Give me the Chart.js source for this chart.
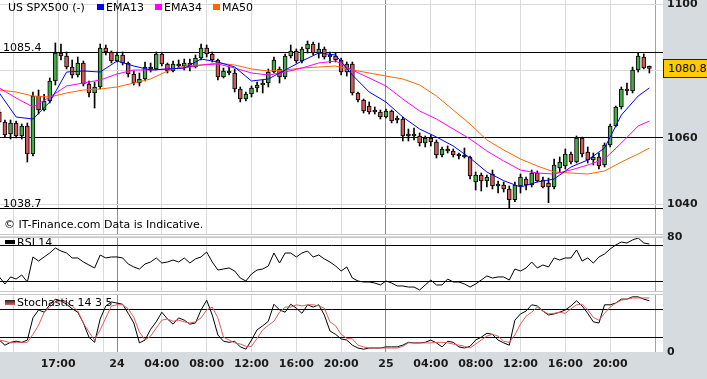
<!DOCTYPE html>
<html>
<head>
<meta charset="utf-8">
<title>US SPX500</title>
<script src="https://cdn.jsdelivr.net/npm/chart.js@4.4.0/dist/chart.umd.min.js"></script>
<style>
  body { margin: 0; background: #fff; }
  #wrap { position: relative; width: 707px; height: 379px; overflow: hidden; font-family: 'DejaVu Sans', sans-serif; font-size: 11px; color: #000; }
  #wrap canvas { position: absolute; left: 0; top: 0; }
  .side { position: absolute; background: #d6dbdf; }
  .sep { position: absolute; left: 0; width: 663px; height: 1px; background: #c6c6c6; }
  .txt { position: absolute; white-space: nowrap; line-height: 13px; }
  .swatch { position: absolute; width: 7px; height: 6px; }
  #lastPrice { position: absolute; left: 663px; top: 59px; width: 39px; height: 17px; padding-left: 4px; border: 1px solid #222; background: #ffcc00; line-height: 17px; }
</style>
</head>
<body>
<div id="wrap">
  <div class="side" style="left:663px;top:0;width:44px;height:379px"></div>
  <div class="side" style="left:0;top:352px;width:707px;height:27px"></div>
  <canvas id="priceChart" width="707" height="379"></canvas>
  <canvas id="rsiChart" width="707" height="379"></canvas>
  <canvas id="stochChart" width="707" height="379"></canvas>
  <div class="sep" style="top:234px"></div>
  <div class="sep" style="top:237px"></div>
  <div class="sep" style="top:291px"></div>
  <div class="sep" style="top:294px"></div>

  <div class="txt" style="left:8px;top:1px">US SPX500 (-)</div>
  <span class="swatch" style="left:97px;top:4px;background:#0000ff"></span>
  <div class="txt" style="left:106px;top:1px">EMA13</div>
  <span class="swatch" style="left:155px;top:4px;background:#ff00ff"></span>
  <div class="txt" style="left:164px;top:1px">EMA34</div>
  <span class="swatch" style="left:213px;top:4px;background:#ff6600"></span>
  <div class="txt" style="left:222px;top:1px">MA50</div>
  <div class="txt" id="highLabel" style="left:3px;top:41px"></div>
  <div class="txt" id="lowLabel" style="left:3px;top:197px"></div>
  <div class="txt" style="left:4px;top:218px">© IT-Finance.com Data is Indicative.</div>
  <span class="swatch" style="left:5px;top:240px;width:10px;height:4px;background:#000"></span>
  <div class="txt" style="left:17px;top:236px">RSI 14</div>
  <span class="swatch" style="left:5px;top:300px;width:10px;height:5px;background:linear-gradient(#222,#e06060)"></span>
  <div class="txt" style="left:17px;top:296px">Stochastic 14 3 5</div>
  <div id="lastPrice"></div>
</div>
<script>
// 30 minute bars, index 0 = first bar on the left
const opens = [1067.7,1064.7,1061.1,1064.4,1060.5,1063.5,1055.1,1072.5,1068.3,1071.0,
  1077.0,1085.4,1084.5,1081.2,1078.8,1082.4,1076.1,1073.4,1075.2,1086.9,
  1085.7,1083.0,1084.8,1082.4,1079.1,1076.4,1077.6,1081.2,1080.6,1085.1,
  1082.1,1080.0,1082.1,1081.5,1082.4,1081.2,1083.9,1086.9,1085.1,1083.3,
  1078.2,1080.0,1079.4,1074.6,1071.6,1073.1,1074.9,1075.8,1076.4,1079.7,
  1080.6,1078.2,1084.5,1086.0,1083.0,1086.6,1088.1,1085.4,1086.6,1084.2,
  1084.5,1083.3,1079.7,1082.1,1073.4,1071.3,1069.5,1068.3,1067.7,1066.2,
  1068.0,1065.3,1065.6,1060.5,1061.1,1060.5,1058.4,1059.9,1058.7,1054.8,
  1056.6,1056.0,1054.8,1054.5,1054.2,1046.7,1048.8,1047.0,1049.1,1045.5,
  1045.8,1044.6,1041.4,1045.5,1047.6,1045.8,1049.4,1047.3,1046.4,1045.2,
  1050.9,1051.5,1055.1,1052.7,1059.9,1055.7,1053.3,1054.2,1051.8,1057.8,
  1063.5,1069.2,1074.6,1074.0,1080.3,1084.2,1080.9];
const highs = [1068.6,1065.3,1065.3,1065.0,1064.1,1064.4,1073.7,1074.3,1073.0,1077.9,
  1088.4,1088.1,1085.7,1083.3,1084.2,1083.0,1077.0,1076.7,1088.1,1087.8,
  1086.0,1085.7,1085.7,1082.7,1080.0,1079.4,1082.7,1082.4,1085.7,1085.4,
  1082.4,1083.0,1083.3,1083.6,1083.6,1084.8,1088.1,1087.8,1085.7,1083.6,
  1080.9,1081.2,1080.6,1075.2,1073.7,1075.5,1076.7,1077.3,1080.6,1084.2,
  1081.2,1085.1,1087.8,1086.6,1087.2,1089.0,1088.7,1088.4,1087.2,1085.7,
  1085.4,1083.9,1082.7,1082.7,1073.7,1071.6,1070.7,1069.2,1068.3,1068.6,
  1068.3,1066.5,1066.2,1062.6,1062.9,1061.4,1060.5,1060.8,1059.3,1057.2,
  1057.5,1056.6,1055.4,1056.9,1054.5,1049.7,1049.4,1048.8,1050.3,1047.0,
  1046.7,1045.5,1046.7,1049.1,1048.2,1050.3,1050.0,1048.2,1047.9,1053.6,
  1054.2,1056.6,1055.7,1060.5,1060.2,1057.2,1055.4,1055.4,1058.4,1064.1,
  1069.5,1075.2,1076.4,1081.2,1085.4,1085.1,1081.5];
const lows = [1064.4,1060.2,1059.6,1059.9,1059.6,1052.7,1054.5,1067.1,1068.0,1070.4,
  1075.8,1083.3,1080.6,1077.9,1078.2,1075.5,1072.2,1068.9,1074.6,1084.8,
  1082.4,1082.7,1081.8,1078.2,1075.8,1075.5,1077.0,1079.7,1080.3,1081.5,
  1079.4,1079.7,1080.9,1080.3,1080.0,1080.9,1083.3,1084.2,1082.7,1077.3,
  1077.9,1078.8,1073.7,1070.7,1071.0,1072.2,1073.7,1073.4,1075.2,1079.4,
  1076.4,1077.6,1083.9,1082.4,1082.4,1085.4,1084.8,1083.9,1083.6,1082.4,
  1082.7,1078.8,1078.5,1072.8,1070.7,1067.4,1067.1,1067.1,1065.6,1065.9,
  1064.4,1064.4,1059.0,1059.0,1059.3,1057.5,1057.2,1057.5,1053.9,1054.2,
  1055.4,1054.2,1053.6,1053.9,1047.6,1044.3,1044.0,1045.2,1044.6,1043.4,
  1043.7,1039.0,1040.8,1043.4,1044.3,1045.2,1046.7,1044.9,1040.5,1044.6,
  1049.7,1050.6,1052.1,1052.4,1054.2,1052.4,1051.8,1050.6,1051.2,1057.2,
  1063.2,1068.6,1072.8,1073.4,1079.7,1080.6,1079.4];
const closes = [1064.7,1060.8,1064.4,1060.5,1063.5,1055.1,1072.5,1068.3,1071.0,1077.0,
  1085.4,1084.5,1081.2,1078.8,1082.4,1076.1,1073.4,1075.2,1086.9,1085.7,
  1083.0,1084.8,1082.4,1079.1,1076.4,1077.6,1081.2,1080.6,1085.1,1082.1,
  1080.0,1082.1,1081.5,1082.4,1081.2,1083.9,1086.9,1085.1,1083.3,1078.2,
  1080.0,1079.4,1074.6,1071.6,1073.1,1074.9,1075.8,1076.4,1079.7,1083.3,
  1078.2,1084.5,1086.0,1083.0,1086.6,1088.1,1085.4,1086.6,1084.2,1084.5,
  1083.3,1079.7,1082.1,1073.4,1071.3,1068.0,1067.7,1067.7,1066.2,1068.0,
  1065.0,1065.6,1060.5,1061.1,1060.5,1058.4,1059.9,1058.7,1054.8,1056.6,
  1056.0,1054.8,1054.5,1054.2,1048.5,1048.8,1047.0,1048.2,1045.5,1045.8,
  1044.6,1041.4,1045.8,1048.2,1045.8,1049.4,1047.0,1045.2,1045.2,1051.8,
  1052.7,1055.1,1052.7,1059.9,1055.1,1053.3,1054.2,1051.5,1057.8,1063.5,
  1069.2,1074.6,1074.0,1080.3,1084.5,1080.9,1080.8];

// moving averages read every third bar
const lineIdx = [0,3,6,9,12,15,18,21,24,27,30,33,36,39,42,45,48,51,54,57,
  60,63,66,69,72,75,78,81,84,87,90,93,96,99,102,105,108,111,114,116];
const ema13 = [1073.4,1066.2,1065.6,1070.7,1079.7,1080.0,1079.7,1083.0,1081.5,1080.3,
  1080.6,1080.9,1083.6,1082.7,1081.2,1077.0,1077.6,1080.3,1083.0,1085.4,
  1084.8,1078.8,1073.7,1070.7,1066.2,1062.6,1060.2,1057.5,1053.9,1049.7,
  1047.1,1045.2,1046.7,1047.6,1051.2,1053.3,1056.9,1066.8,1072.5,1074.9];
const ema34 = [1074.9,1071.9,1069.2,1072.2,1075.5,1076.4,1077.3,1079.1,1080.3,1080.3,
  1080.6,1080.9,1081.8,1082.1,1080.9,1079.4,1078.8,1079.7,1080.9,1082.4,
  1083.0,1080.3,1077.9,1075.5,1071.6,1068.0,1065.6,1062.6,1059.6,1056.0,
  1053.0,1050.3,1049.4,1049.1,1050.3,1051.8,1053.6,1058.4,1063.5,1065.0];
const ma50 = [1074.3,1073.7,1072.5,1072.2,1073.4,1074.3,1074.6,1075.2,1076.4,1077.6,
  1080.0,1081.5,1081.8,1082.4,1081.8,1080.6,1080.0,1080.3,1080.9,1081.2,
  1081.5,1080.3,1079.4,1078.5,1077.6,1075.8,1072.5,1068.3,1064.1,1059.3,
  1056.3,1053.6,1051.5,1049.7,1049.4,1049.1,1050.0,1052.7,1055.1,1056.9];

const rsi14 = [35.6,27.8,35.6,33.3,37.8,30.0,57.8,53.3,57.8,62.2,
  67.8,64.4,62.2,56.7,56.7,52.2,48.9,45.6,60.0,56.7,
  57.8,57.8,56.7,50.0,46.7,44.4,50.0,52.2,56.7,51.1,
  52.2,54.4,52.2,56.7,51.1,55.6,57.8,63.3,52.2,43.3,
  44.4,45.6,42.2,34.4,31.1,38.9,43.3,44.4,47.8,62.2,
  51.1,62.2,62.2,57.8,62.2,64.4,57.8,60.0,55.6,52.2,
  47.8,42.2,46.7,34.4,31.1,30.0,30.0,28.9,26.7,31.1,
  28.9,25.6,25.6,24.4,24.4,21.1,26.7,32.2,26.7,26.7,
  33.3,30.0,30.0,27.8,24.4,27.8,32.2,36.7,34.4,35.6,
  35.6,32.2,44.4,42.2,45.6,52.2,45.6,48.9,46.7,56.7,
  54.4,56.7,56.7,65.6,53.3,56.7,51.1,57.8,61.1,66.7,
  71.1,74.4,73.3,76.7,78.9,73.3,72.2];
const stochK = [21,12,17,19,17,21,60,74,70,83,
  93,90,84,76,70,51,26,17,58,81,
  88,86,84,68,51,16,21,40,53,70,
  58,49,60,56,49,51,74,91,65,30,
  19,17,19,9,5,21,39,46,54,84,
  74,70,84,77,68,83,79,83,65,37,
  31,23,21,12,7,5,7,7,7,9,
  9,9,12,17,16,16,17,21,16,9,
  19,17,9,7,10,21,26,33,31,21,
  16,12,56,67,72,83,81,72,65,67,
  70,74,81,90,81,68,53,51,83,83,
  86,93,93,97,97,93,90];
const stochD = [21,19,16,17,17,17,31,47,70,79,
  88,90,88,81,72,51,35,21,39,60,
  81,83,83,76,61,35,21,28,42,56,
  58,54,56,53,51,53,60,74,79,60,
  26,21,16,14,10,10,24,39,47,54,
  70,79,79,83,81,83,83,81,77,53,
  46,31,24,23,12,9,7,7,7,7,
  7,7,10,16,16,16,16,16,17,17,
  16,14,12,10,7,14,21,28,31,28,
  19,17,30,49,63,70,79,72,67,68,
  70,68,76,83,84,74,61,56,68,79,
  86,91,93,95,95,95,95];

// time axis: bar index positions of the grid lines and their labels
const tickIdx = [2.5, 10.5, 18.5, 21, 29, 37, 45, 53, 61, 69, 77, 85, 93, 101, 109, 117.1];
const tickLabels = ['', '17:00', '', '24', '04:00', '08:00', '12:00', '16:00', '20:00', '25', '04:00', '08:00', '12:00', '16:00', '20:00', ''];
const dayTicks = [21, 69];
const edgeTick = 117.1;
const X_MIN = 0.12;
const X_MAX = 118.43;

const priceTicks = [1038.7, 1040, 1060, 1080, 1085.4, 1100];
const priceLabels = ['', '1040', '1060', '', '', '1100'];
const priceLevels = [1038.7, 1060, 1085.4];
const sessionHigh = 1085.4;
const sessionLow = 1038.7;
const lastPrice = 1080.8;

const rsiTicks = [30, 70, 80];
const rsiLabels = ['', '', '80'];
const stochTicks = [0, 25, 75];
const stochLabels = ['0', '', ''];

const axisFont = { family: 'DejaVu Sans', size: 11, weight: 'bold' };
const upColor = '#46aa46';
const downColor = '#cf5a5a';

document.getElementById('highLabel').textContent = sessionHigh.toFixed(1);
document.getElementById('lowLabel').textContent = sessionLow.toFixed(1);
document.getElementById('lastPrice').textContent = lastPrice.toFixed(1);

function timeAxis(showLabels) {
  return {
    type: 'linear',
    min: X_MIN,
    max: X_MAX,
    bounds: 'data',
    offset: false,
    afterBuildTicks: axis => { axis.ticks = tickIdx.map(v => ({ value: v })); },
    afterFit: axis => {
      axis.height = showLabels ? 27 : 0;
      axis.paddingLeft = 0;
      axis.paddingRight = 0;
    },
    ticks: {
      display: showLabels,
      autoSkip: false,
      maxRotation: 0,
      padding: 6,
      color: '#1a1a1a',
      font: axisFont,
      callback: (v, i) => tickLabels[i]
    },
    grid: {
      offset: false,
      drawTicks: false,
      color: ctx => {
        const v = ctx.tick ? ctx.tick.value : null;
        if (dayTicks.includes(v)) return '#8a8a8a';
        if (v === edgeTick) return '#a4a4a4';
        return '#dadada';
      }
    },
    border: { display: false }
  };
}

function valueAxis(min, max, ticks, labels, blackLines) {
  return {
    position: 'right',
    min: min,
    max: max,
    bounds: 'data',
    beginAtZero: false,
    afterBuildTicks: axis => { axis.ticks = ticks.map(v => ({ value: v })); },
    afterFit: axis => {
      axis.width = 44;
      axis.paddingTop = 0;
      axis.paddingBottom = 0;
    },
    ticks: {
      autoSkip: false,
      padding: 4,
      color: '#1a1a1a',
      font: axisFont,
      callback: (v, i) => labels[i]
    },
    grid: {
      drawTicks: false,
      color: ctx => {
        const v = ctx.tick ? ctx.tick.value : null;
        if (blackLines.includes(v)) return '#000';
        if (v === min || v === max) return 'rgba(0,0,0,0)';
        return '#dadada';
      }
    },
    border: { display: false }
  };
}

function linePoints(xs, ys) {
  return xs.map((x, i) => ({ x: x, y: ys[i] }));
}

const baseOptions = {
  responsive: false,
  animation: false,
  events: [],
  plugins: { legend: { display: false }, tooltip: { enabled: false } }
};

new Chart(document.getElementById('priceChart'), {
  type: 'bar',
  data: {
    datasets: [
      { type: 'line', label: 'EMA13', data: linePoints(lineIdx, ema13), borderColor: '#0000ff', borderWidth: 1, pointRadius: 0, order: 0 },
      { type: 'line', label: 'EMA34', data: linePoints(lineIdx, ema34), borderColor: '#ff00ff', borderWidth: 1, pointRadius: 0, order: 0 },
      { type: 'line', label: 'MA50', data: linePoints(lineIdx, ma50), borderColor: '#ff6600', borderWidth: 1, pointRadius: 0, order: 0 },
      {
        label: 'body',
        data: opens.map((o, i) => ({ x: i, y: [o, closes[i]] })),
        backgroundColor: opens.map((o, i) => closes[i] >= o ? upColor : downColor),
        borderColor: '#000',
        borderWidth: 1,
        borderSkipped: false,
        barThickness: 4,
        minBarLength: 2,
        grouped: false,
        order: 1
      },
      {
        label: 'wick',
        data: lows.map((l, i) => ({ x: i, y: [l, highs[i]] })),
        backgroundColor: '#000',
        barThickness: 1,
        grouped: false,
        order: 2
      }
    ]
  },
  options: {
    ...baseOptions,
    layout: { padding: { top: 0, bottom: 145, left: 0, right: 0 } },
    scales: {
      x: timeAxis(false),
      y: valueAxis(1031.1, 1101.3, priceTicks, priceLabels, priceLevels)
    }
  }
});

new Chart(document.getElementById('rsiChart'), {
  type: 'line',
  data: {
    datasets: [
      { label: 'RSI 14', data: rsi14.map((v, i) => ({ x: i, y: v })), borderColor: '#000', borderWidth: 1, pointRadius: 0 }
    ]
  },
  options: {
    ...baseOptions,
    layout: { padding: { top: 236, bottom: 88, left: 0, right: 0 } },
    scales: {
      x: timeAxis(false),
      y: valueAxis(20, 81.1, rsiTicks, rsiLabels, [30, 70])
    }
  }
});

new Chart(document.getElementById('stochChart'), {
  type: 'line',
  data: {
    datasets: [
      { label: '%D', data: stochD.map((v, i) => ({ x: i, y: v })), borderColor: '#e05a5a', borderWidth: 1, pointRadius: 0 },
      { label: '%K', data: stochK.map((v, i) => ({ x: i, y: v })), borderColor: '#000', borderWidth: 1, pointRadius: 0 }
    ]
  },
  options: {
    ...baseOptions,
    layout: { padding: { top: 294, bottom: 0, left: 0, right: 0 } },
    scales: {
      x: timeAxis(true),
      y: valueAxis(0, 102, stochTicks, stochLabels, [25, 75])
    }
  }
});
</script>
</body>
</html>
